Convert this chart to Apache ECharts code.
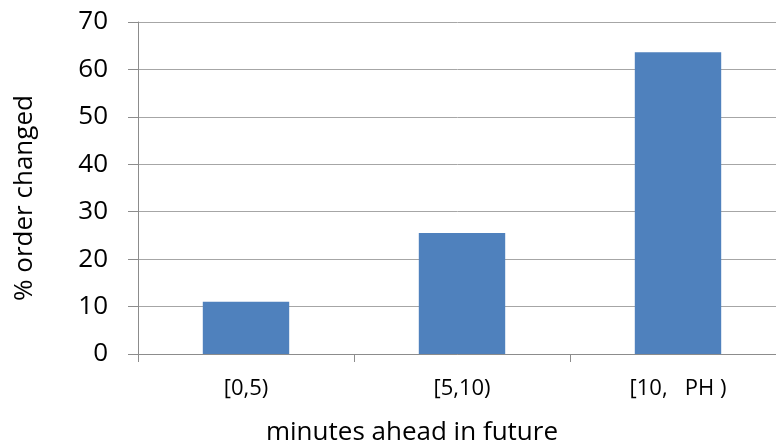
<!DOCTYPE html>
<html>
<head>
<meta charset="utf-8">
<script src="https://cdn.jsdelivr.net/npm/echarts@6/dist/echarts.min.js"></script>
<style>html,body{margin:0;padding:0;background:#fff;}#c{width:776px;height:446px;}</style>
</head>
<body>
<div id="c"></div>
<script>
var categories = ['[0,5)', '[5,10)', '[10,   PH )'];
var values = [11.0, 25.5, 63.6];
var yTicks = [0, 10, 20, 30, 40, 50, 60, 70];

var chart = echarts.init(document.getElementById('c'), null, {renderer: 'canvas'});
var font = '"Open Sans", "Noto Sans", sans-serif';
chart.setOption({
  animation: false,
  backgroundColor: '#fff',
  grid: {left: 138, top: 22, width: 648, height: 332, containLabel: false, outerBoundsMode: 'none'},
  xAxis: {
    type: 'category',
    data: categories,
    name: 'minutes ahead in future',
    nameLocation: 'middle',
    nameGap: 66,
    nameTextStyle: {fontFamily: font, fontSize: 26, color: '#000', verticalAlign: 'top', padding: [0, 100, 0, 0]},
    axisLine: {lineStyle: {color: '#8c8c8c', width: 1}},
    axisTick: {show: true, length: 8, lineStyle: {color: '#8c8c8c'}},
    axisLabel: {fontFamily: font, fontSize: 22, color: '#000', margin: 24}
  },
  yAxis: {
    type: 'value',
    min: yTicks[0],
    max: yTicks[yTicks.length - 1],
    interval: 10,
    name: '% order changed',
    nameLocation: 'middle',
    nameGap: 100,
    nameTextStyle: {fontFamily: font, fontSize: 26, color: '#000', padding: [0, 20, 0, 0]},
    axisLine: {show: true, lineStyle: {color: '#8c8c8c', width: 1}},
    axisTick: {show: true, length: 10, lineStyle: {color: '#8c8c8c'}},
    axisLabel: {fontFamily: font, fontSize: 26, color: '#000', margin: 30},
    splitLine: {show: true, lineStyle: {color: '#a6a6a6', width: 1}}
  },
  series: [{
    type: 'bar',
    data: values,
    barWidth: '40%',
    itemStyle: {color: '#4F81BD'}
  }]
});
</script>
</body>
</html>
